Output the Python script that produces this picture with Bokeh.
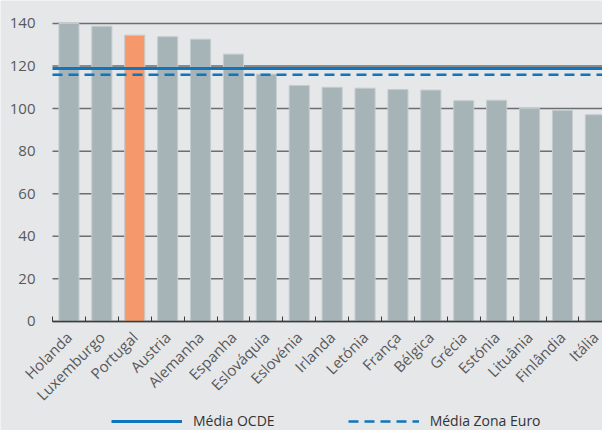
from math import pi
from bokeh.plotting import figure
from bokeh.models import Range1d, FixedTicker, Legend, LegendItem, ColumnDataSource
from bokeh.embed import file_html
from bokeh.resources import INLINE

# ---- data ----
countries = ["Holanda", "Luxemburgo", "Portugal", "Austria", "Alemanha", "Espanha",
             "Eslováquia", "Eslovénia", "Irlanda", "Letónia", "França", "Bélgica",
             "Grécia", "Estónia", "Lituânia", "Finlândia", "Itália"]
values = [140.0, 138.7, 134.5, 133.8, 132.6, 125.6, 116.2, 110.9, 110.0, 109.6,
          109.0, 108.7, 103.7, 103.9, 100.1, 99.1, 97.1]
highlight = "Portugal"
media_ocde = 118.9
media_zona_euro = 115.9
y_ticks = [0, 20, 40, 60, 80, 100, 120, 140]
legend_labels = ["Média OCDE", "Média Zona Euro"]

BG = "#e6e7e9"
GRAY = "#a6b4b8"
ORANGE = "#f5986c"
BLUE = "#0f75bc"
TXT = "#58595b"
FONT = "Open Sans"

n = len(countries)
centers = [i + 0.5 for i in range(n)]
colors = [ORANGE if c == highlight else GRAY for c in countries]
src = ColumnDataSource(dict(x=centers, top=values, color=colors, name=countries))

PX = 32.9  # pixels per category
p = figure(frame_width=602, frame_height=430, output_backend="svg", toolbar_location=None,
           x_range=Range1d(-52 / PX, 550 / PX), y_range=Range1d(-51.26, 150.8),
           min_border_left=0, min_border_right=0, min_border_top=0,
           min_border_bottom=0)
p.background_fill_color = BG
p.border_fill_color = BG
p.outline_line_color = None

# grid lines over the category span only
p.xgrid.grid_line_color = None
p.ygrid.grid_line_color = None
p.segment(x0=[0] * len(y_ticks), x1=[n] * len(y_ticks), y0=y_ticks, y1=y_ticks,
          line_color="#6d6e70", line_width=1.5, level="underlay")

# bars
p.vbar(x="x", top="top", width=0.61, source=src, fill_color="color",
       line_color="#c3ccce", line_width=1)

# average lines
r1 = p.line(x=[0, n], y=[media_ocde, media_ocde], line_color=BLUE, line_width=3)
r2 = p.line(x=[0, n], y=[media_zona_euro, media_zona_euro], line_color=BLUE,
            line_width=2.5, line_dash="10 6")

# y axis, drawn at the left end of the categories
ya = p.yaxis[0]
ya.fixed_location = 0
ya.ticker = FixedTicker(ticks=y_ticks)
ya.axis_line_color = None
ya.major_tick_line_color = None
ya.major_tick_out = 0
ya.minor_tick_line_color = None
ya.major_label_standoff = 17
ya.major_label_text_font = FONT
ya.major_label_text_font_size = "15px"
ya.major_label_text_color = TXT

# x axis, drawn at value 0
xa = p.xaxis[0]
xa.fixed_location = 0
xa.bounds = (0, n)
xa.ticker = FixedTicker(ticks=centers, minor_ticks=list(range(n + 1)))
xa.major_label_overrides = {c: name for c, name in zip(centers, countries)}
xa.major_tick_line_color = None
xa.major_tick_out = 0
xa.minor_tick_in = 5
xa.minor_tick_out = 0
xa.minor_tick_line_color = "#3c3c3c"
xa.axis_line_color = "#3c3c3c"
xa.axis_line_width = 1.5
xa.major_label_orientation = pi / 4
xa.major_label_standoff = 13
xa.major_label_text_font = FONT
xa.major_label_text_font_size = "15px"
xa.major_label_text_color = TXT

# legend
legend = Legend(items=[LegendItem(label=legend_labels[0], renderers=[r1]),
                       LegendItem(label=legend_labels[1], renderers=[r2])],
                orientation="horizontal", location=(111, 0),
                glyph_width=71, glyph_height=12, label_height=12,
                label_standoff=11, spacing=73,
                padding=0, margin=0,
                background_fill_alpha=0, border_line_color=None,
                label_text_font=FONT, label_text_font_size="14px",
                label_text_color="#333333")
p.add_layout(legend, "center")

open("out.html", "w").write(file_html(p, INLINE))
